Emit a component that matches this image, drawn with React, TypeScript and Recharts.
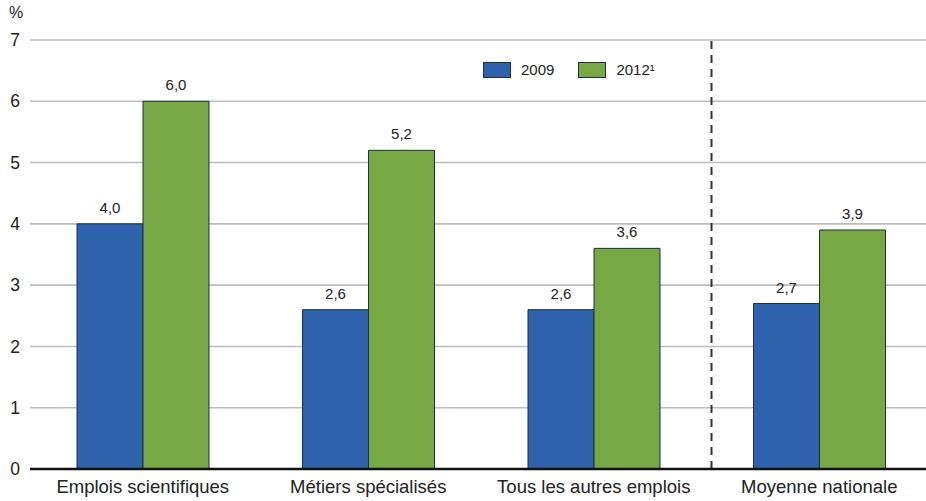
import { BarChart, Bar, XAxis, YAxis, CartesianGrid, ReferenceLine, LabelList } from 'recharts'

const categories = ['Emplois scientifiques', 'Métiers spécialisés', 'Tous les autres emplois', 'Moyenne nationale']
const values2009 = [4.0, 2.6, 2.6, 2.7]
const values2012 = [6.0, 5.2, 3.6, 3.9]
const yTicks = [0, 1, 2, 3, 4, 5, 6, 7]
const seriesNames = ['2009', '2012¹']

const BLUE = '#2f62ad'
const GREEN = '#78a843'
const FONT = '"Liberation Sans", Arial, sans-serif'

const data = categories.map((c, i) => ({ name: c, v2009: values2009[i], v2012: values2012[i] }))

const fmt = (v: any) => Number(v).toFixed(1).replace('.', ',')

// divider sits a little right of the band edge in the original
function Divider(p: any) {
  const x = p.x1 + 5
  return <line x1={x} x2={x} y1={p.y1} y2={p.y2} stroke="#333" strokeWidth={2} strokeDasharray="8 6" />
}

function LegendBox() {
  const items = [
    { label: seriesNames[0], color: BLUE },
    { label: seriesNames[1], color: GREEN },
  ]
  return (
    <div style={{ position: 'absolute', left: 483, top: 61, display: 'flex', alignItems: 'center', fontFamily: FONT, fontSize: 15, color: '#222' }}>
      {items.map(it => (
        <div key={it.label} style={{ display: 'flex', alignItems: 'center', marginRight: 24 }}>
          <span style={{ width: 26, height: 14, background: it.color, border: '1px solid #1f3040', display: 'inline-block', marginRight: 10 }} />
          <span>{it.label}</span>
        </div>
      ))}
    </div>
  )
}

export default function App() {
  return (
    <div style={{ position: 'absolute', left: 0, top: 0, width: 926, height: 501, background: '#fff' }}>
      <BarChart
        width={926} height={501} data={data}
        margin={{ top: 40, right: -6, bottom: 0, left: 0 }}
        barCategoryGap={47} barGap={0}
      >
        <CartesianGrid vertical={false} stroke="#bdbdbd" strokeWidth={1.6} />
        <XAxis
          dataKey="name" height={32}
          tick={{ fill: '#222', fontSize: 18.5, fontFamily: FONT }}
          tickLine={false} axisLine={{ stroke: '#111', strokeWidth: 2.5 }}
          tickMargin={5} interval={0}
        />
        <YAxis
          domain={[0, 7]} ticks={yTicks} width={30}
          tick={{ fill: '#222', fontSize: 17.5, fontFamily: FONT }}
          tickLine={false} axisLine={false} tickMargin={4}
        />
        <ReferenceLine x="Moyenne nationale" position="start" shape={Divider} />
        <Bar dataKey="v2009" name={seriesNames[0]} fill={BLUE} stroke="#1f3040" strokeWidth={1} isAnimationActive={false}>
          <LabelList dataKey="v2009" position="top" offset={11} formatter={fmt} style={{ fill: '#222', fontSize: 15, fontFamily: FONT }} />
        </Bar>
        <Bar dataKey="v2012" name={seriesNames[1]} fill={GREEN} stroke="#1f3040" strokeWidth={1} isAnimationActive={false}>
          <LabelList dataKey="v2012" position="top" offset={11} formatter={fmt} style={{ fill: '#222', fontSize: 15, fontFamily: FONT }} />
        </Bar>
      </BarChart>
      <div style={{ position: 'absolute', left: 9, top: 4, fontFamily: FONT, fontSize: 16, color: '#222' }}>%</div>
      <LegendBox />
    </div>
  )
}
